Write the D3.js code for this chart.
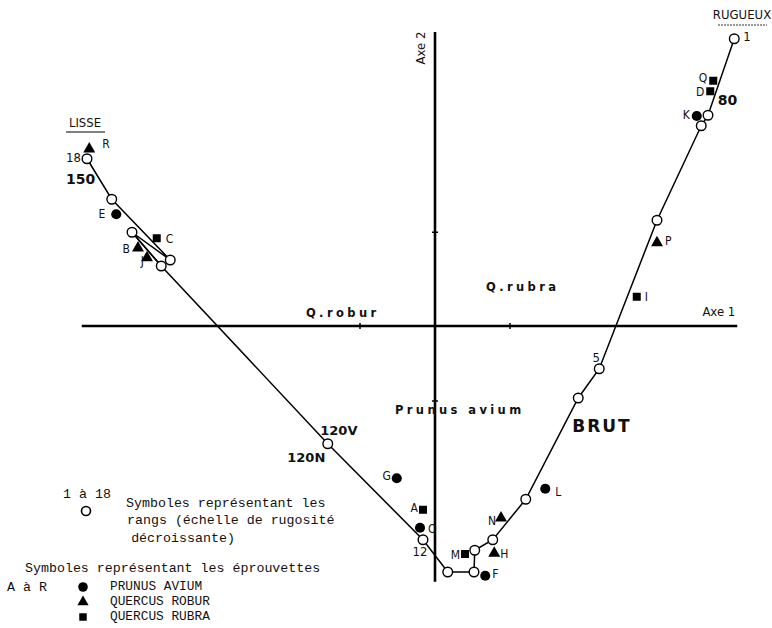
<!DOCTYPE html>
<html>
<head>
<meta charset="utf-8">
<script src="https://cdn.jsdelivr.net/npm/d3@7"></script>
<style>
  body { margin: 0; background: #fff; }
  svg { display: block; }
  .mono { font-family: "Liberation Mono", "DejaVu Sans Mono", monospace; font-size: 13.3px; fill: #111; }
  .narrow { font-family: "Liberation Sans Narrow", "DejaVu Sans Condensed", "Liberation Sans", sans-serif; font-size: 12px; fill: #111; }
  .bold { font-family: "DejaVu Sans", "Liberation Sans", sans-serif; font-weight: bold; fill: #111; }
</style>
</head>
<body>
<div id="chart"></div>
<script>
// Ranks 1 to 18 (open circles), path order, factorial coordinates (Axe 1, Axe 2)
const rankX = [3.99, 3.64, 3.55, 2.96, 2.19, 1.91, 1.21, 0.77, 0.53, 0.52, 0.17, -0.16, -1.43, -3.65, -4.04, -3.53, -4.31, -4.64];
const rankY = [3.83, 2.81, 2.67, 1.41, -0.57, -0.96, -2.31, -2.85, -2.99, -3.28, -3.28, -2.85, -1.57, 0.80, 1.25, 0.88, 1.69, 2.23];
const rankLabels = { 1: "1", 5: "5", 12: "12", 18: "18" };

// Specimens A..R
const specNames = ["R", "E", "C", "B", "J", "Q", "D", "K", "P", "I", "G", "A", "O", "M", "H", "N", "F", "L"];
const specX = [-4.61, -4.25, -3.71, -3.96, -3.84, 3.71, 3.67, 3.49, 2.96, 2.69, -0.51, -0.16, -0.20, 0.40, 0.79, 0.88, 0.67, 1.47];
const specY = [2.36, 1.49, 1.17, 1.04, 0.91, 3.27, 3.13, 2.80, 1.11, 0.39, -2.03, -2.45, -2.69, -3.04, -3.03, -2.56, -3.33, -2.17];
const specSpecies = ["robur", "avium", "rubra", "robur", "robur", "rubra", "rubra", "avium", "robur", "rubra", "avium", "rubra", "avium", "rubra", "robur", "robur", "avium", "avium"];

// Axis extents and ticks (data units)
const axis1 = [-4.71, 4.03];
const axis2 = [-3.41, 3.92];
const xTicks = [-1, 1];
const yTicks = [-1, 1.25];

// Annotations
const annotations = [
  { text: "150", x: -4.92, y: 1.95, size: 14 },
  { text: "80", x: 3.77, y: 3.00, size: 14 },
  { text: "120V", x: -1.53, y: -1.41, size: 13 },
  { text: "120N", x: -1.97, y: -1.76, size: 13 },
  { text: "BRUT", x: 1.83, y: -1.35, size: 17, spacing: 2 }
];
const groupLabels = [
  { text: "Q.robur", x: -1.23, y: 0.17 },
  { text: "Q.rubra", x: 1.17, y: 0.52 },
  { text: "Prunus avium", x: 0.33, y: -1.12 }
];

const width = 772, height = 628;
const x = d3.scaleLinear().domain([-1, 1]).range([360, 510]);
const y = d3.scaleLinear().domain([-1, 1]).range([401, 251]);

const svg = d3.select("#chart").append("svg")
  .attr("width", width).attr("height", height);

// Axes
svg.append("line")
  .attr("x1", x(axis1[0])).attr("x2", x(axis1[1]))
  .attr("y1", y(0)).attr("y2", y(0))
  .attr("stroke", "#000").attr("stroke-width", 2.6);
svg.append("line")
  .attr("x1", x(0)).attr("x2", x(0))
  .attr("y1", y(axis2[1])).attr("y2", y(axis2[0]))
  .attr("stroke", "#000").attr("stroke-width", 2.6);
xTicks.forEach(t => {
  svg.append("line").attr("x1", x(t)).attr("x2", x(t))
    .attr("y1", y(0) - 3).attr("y2", y(0) + 3)
    .attr("stroke", "#000").attr("stroke-width", 1.5);
});
yTicks.forEach(t => {
  svg.append("line").attr("x1", x(0) - 3).attr("x2", x(0) + 3)
    .attr("y1", y(t)).attr("y2", y(t))
    .attr("stroke", "#000").attr("stroke-width", 1.5);
});
svg.append("text").attr("class", "narrow")
  .attr("x", x(axis1[1]) - 2).attr("y", y(0) - 10)
  .attr("text-anchor", "end").style("font-size", "13px")
  .text("Axe  1");
svg.append("text").attr("class", "narrow")
  .attr("transform", `translate(${x(0) - 14},${y(axis2[1]) + 16}) rotate(-90)`)
  .attr("text-anchor", "middle").attr("dominant-baseline", "middle")
  .style("font-size", "13px")
  .text("Axe 2");

// Rank path
const ranks = rankX.map((v, i) => ({ rank: i + 1, x: v, y: rankY[i] }));
svg.append("path")
  .datum(ranks)
  .attr("fill", "none").attr("stroke", "#000").attr("stroke-width", 1.5)
  .attr("d", d3.line().x(d => x(d.x)).y(d => y(d.y)));
// second branch of the narrow V (rank 15 back to rank 14)
svg.append("line")
  .attr("x1", x(rankX[14])).attr("y1", y(rankY[14]))
  .attr("x2", x(rankX[13])).attr("y2", y(rankY[13]))
  .attr("stroke", "#000").attr("stroke-width", 1.5);

// Specimens
const symbolFor = { avium: d3.symbolCircle, robur: d3.symbolTriangle, rubra: d3.symbolSquare };
const sizeFor = { avium: 80, robur: 62, rubra: 64 };
const labelOffset = {
  R: [13, -5, "start"], E: [-11, 0, "end"], C: [9, 1, "start"], B: [-8, 1, "end"],
  J: [-3, 4, "end"], Q: [-6, -2, "end"], D: [-6, 1, "end"], K: [-7, -1, "end"],
  P: [8, -1, "start"], I: [8, 1, "start"], G: [-6, -2, "end"], A: [-5, -1, "end"],
  O: [8, 2, "start"], M: [-5, 1, "end"], H: [6, 1, "start"], N: [-5, 3, "end"],
  F: [7, -1, "start"], L: [10, 4, "start"]
};
const specs = specNames.map((n, i) => ({ name: n, x: specX[i], y: specY[i], sp: specSpecies[i] }));
svg.selectAll("path.spec").data(specs).join("path")
  .attr("class", "spec")
  .attr("transform", d => `translate(${x(d.x)},${y(d.y)})`)
  .attr("d", d => d3.symbol().type(symbolFor[d.sp]).size(sizeFor[d.sp])())
  .attr("fill", "#000");
svg.selectAll("text.spec").data(specs).join("text")
  .attr("class", "narrow spec")
  .attr("x", d => x(d.x) + labelOffset[d.name][0])
  .attr("y", d => y(d.y) + labelOffset[d.name][1])
  .attr("text-anchor", d => labelOffset[d.name][2])
  .attr("dominant-baseline", "middle")
  .text(d => d.name);

// Rank circles on top
svg.selectAll("circle.rank").data(ranks).join("circle")
  .attr("class", "rank")
  .attr("cx", d => x(d.x)).attr("cy", d => y(d.y)).attr("r", 4.8)
  .attr("fill", "#fff").attr("stroke", "#000").attr("stroke-width", 1.4);
const rankOffset = { 1: [9, -1, "start"], 5: [-3, -10, "middle"], 12: [-3, 13, "middle"], 18: [-6, 0, "end"] };
svg.selectAll("text.rank").data(ranks.filter(d => rankLabels[d.rank])).join("text")
  .attr("class", "narrow rank")
  .attr("x", d => x(d.x) + rankOffset[d.rank][0])
  .attr("y", d => y(d.y) + rankOffset[d.rank][1])
  .attr("text-anchor", d => rankOffset[d.rank][2])
  .attr("dominant-baseline", "middle")
  .style("font-size", "13px")
  .text(d => rankLabels[d.rank]);

// Bold annotations
annotations.forEach(a => {
  svg.append("text").attr("class", "bold")
    .attr("x", x(a.x)).attr("y", y(a.y))
    .attr("dominant-baseline", "middle")
    .style("font-size", a.size + "px")
    .style("letter-spacing", (a.spacing || 0) + "px")
    .text(a.text);
});
groupLabels.forEach(g => {
  svg.append("text").attr("class", "bold")
    .attr("x", x(g.x)).attr("y", y(g.y))
    .attr("text-anchor", "middle").attr("dominant-baseline", "middle")
    .style("font-size", "11.5px").style("letter-spacing", "3.4px")
    .text(g.text);
});

// LISSE / RUGUEUX
svg.append("text").attr("class", "narrow")
  .attr("x", 85).attr("y", 123).attr("text-anchor", "middle")
  .attr("dominant-baseline", "middle").style("font-size", "13px").text("LISSE");
svg.append("line").attr("x1", 66).attr("x2", 105).attr("y1", 132).attr("y2", 132)
  .attr("stroke", "#000").attr("stroke-width", 1);
svg.append("text").attr("class", "narrow")
  .attr("x", 742).attr("y", 15).attr("text-anchor", "middle")
  .attr("dominant-baseline", "middle").style("font-size", "13px").text("RUGUEUX");
svg.append("line").attr("x1", 718).attr("x2", 767).attr("y1", 25).attr("y2", 25)
  .attr("stroke", "#000").attr("stroke-width", 0.8).attr("stroke-dasharray", "2,1");

// Legend
const lg = svg.append("g");
lg.append("text").attr("class", "mono").attr("x", 87).attr("y", 494)
  .attr("text-anchor", "middle").attr("dominant-baseline", "middle").text("1 à 18");
lg.append("circle").attr("cx", 86).attr("cy", 511).attr("r", 4.5)
  .attr("fill", "#fff").attr("stroke", "#000").attr("stroke-width", 1.6);
lg.append("text").attr("class", "mono").attr("x", 126).attr("y", 503)
  .attr("dominant-baseline", "middle").text("Symboles représentant les");
lg.append("text").attr("class", "mono").attr("x", 127).attr("y", 520)
  .attr("dominant-baseline", "middle").text("rangs (échelle de rugosité");
lg.append("text").attr("class", "mono").attr("x", 183).attr("y", 538)
  .attr("text-anchor", "middle").attr("dominant-baseline", "middle").text("décroissante)");
lg.append("text").attr("class", "mono").attr("x", 25).attr("y", 568)
  .attr("dominant-baseline", "middle").text("Symboles représentant les éprouvettes");
lg.append("text").attr("class", "mono").attr("x", 7).attr("y", 587)
  .attr("dominant-baseline", "middle").text("A à R");
const legendItems = [
  { sp: "avium", label: "PRUNUS AVIUM" },
  { sp: "robur", label: "QUERCUS ROBUR" },
  { sp: "rubra", label: "QUERCUS RUBRA" }
];
legendItems.forEach((it, i) => {
  const cy = 587 + i * 15;
  lg.append("path")
    .attr("transform", `translate(83,${cy})`)
    .attr("d", d3.symbol().type(symbolFor[it.sp]).size(sizeFor[it.sp] - 8)())
    .attr("fill", "#000");
  lg.append("text").attr("class", "mono").attr("x", 110).attr("y", cy)
    .attr("dominant-baseline", "middle").style("font-size", "12.8px").text(it.label);
});
</script>
</body>
</html>
